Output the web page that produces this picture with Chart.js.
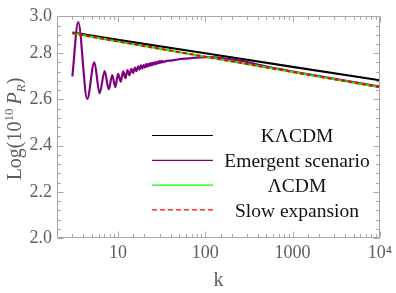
<!DOCTYPE html>
<html>
<head>
<meta charset="UTF-8">
<title>Log(10^10 P_R) vs k</title>
<script src="https://cdn.jsdelivr.net/npm/chart.js"></script>
<style>
  html, body { margin: 0; padding: 0; background: #fff; }
  #wrap { width: 396px; height: 293px; position: relative; }
</style>
</head>
<body>
<div id="wrap"><canvas id="c"></canvas></div>
<script>
// axis ranges and tick labels
const kMin = 2, kMax = 10000;
const yMin = 2.0, yMax = 2.962;
const yTickValues = [2.0, 2.2, 2.4, 2.6, 2.8, 3.0];
const xLabelValues = [10, 100, 1000, 10000];
const xLabelTexts = ['10', '100', '1000', '10\u2074'];

const seriesNames = ['K\u039BCDM', 'Emergent scenario', '\u039BCDM', 'Slow expansion'];

// straight curves (read at a few k)
const kLine = [3, 10, 100, 1000, 10000];
const kLcdm = [2.889, 2.858, 2.800, 2.741, 2.683];
const lcdm = [2.886, 2.851, 2.785, 2.719, 2.653];
const slowExp = [2.886, 2.851, 2.785, 2.719, 2.653];

// emergent scenario: extrema of the oscillation, then the smooth tail
const emK = [3.0, 3.5, 4.44, 5.35, 6.16, 7.03, 7.82, 8.59, 9.31,
  10.03, 10.75, 11.46, 12.16, 12.86, 13.55, 14.24, 14.92, 15.6, 16.28,
  16.95, 17.62, 18.29, 18.95, 19.61, 20.27, 20.93, 21.58, 22.23, 22.88,
  23.53, 24.17, 24.81, 25.45, 26.09, 26.72, 27.35, 27.98, 28.61, 29.24,
  29.87, 30.5, 31.13, 31.76, 32.4, 33.0,
  36, 42, 50, 65, 85, 107, 130, 165, 250, 500, 1000, 10000];
const emP = [2.700, 2.935, 2.602, 2.761, 2.627, 2.723, 2.644, 2.705, 2.653,
  2.711, 2.677, 2.721, 2.692, 2.727, 2.704, 2.732, 2.714, 2.738, 2.722,
  2.743, 2.729, 2.747, 2.733, 2.749, 2.738, 2.753, 2.741, 2.754, 2.745,
  2.757, 2.747, 2.758, 2.750, 2.761, 2.752, 2.762, 2.755, 2.764, 2.757,
  2.766, 2.759, 2.766, 2.760, 2.766, 2.762,
  2.767, 2.769, 2.774, 2.778, 2.782, 2.783, 2.782, 2.777, 2.768, 2.742, 2.721, 2.655];

const pts = (xs, ys) => xs.map((x, i) => ({ x: x, y: ys[i] }));

const SERIF = '"Liberation Serif", "DejaVu Serif", serif';
const GRAY = '#5e5e5e';

// frame with inward ticks on all four sides, legend, axis titles
const decorPlugin = {
  id: 'decor',
  afterDatasetsDraw(chart) {
    const { ctx, chartArea: a, scales: { x, y } } = chart;
    ctx.save();
    ctx.strokeStyle = '#a8a8a8';
    ctx.lineWidth = 1;
    ctx.beginPath();
    const L = Math.round(a.left) + 0.5, R = Math.round(a.right) - 0.5;
    const T = Math.round(a.top) + 0.5, B = Math.round(a.bottom) - 0.5;
    ctx.rect(L, T, R - L, B - T);
    x.ticks.forEach(t => {
      const px = Math.round(x.getPixelForValue(t.value)) + 0.5;
      const lg = Math.log10(t.value);
      const len = Math.abs(lg - Math.round(lg)) < 1e-9 ? 6 : 3.5;
      ctx.moveTo(px, B); ctx.lineTo(px, B - len);
      ctx.moveTo(px, T); ctx.lineTo(px, T + len);
    });
    for (let i = 0; ; i++) {
      const v = yMin + i * 0.04;
      if (v > yMax + 1e-9) break;
      const py = Math.round(y.getPixelForValue(v)) + 0.5;
      const len = i % 5 === 0 ? 6 : 3.5;
      ctx.moveTo(L, py); ctx.lineTo(L + len, py);
      ctx.moveTo(R, py); ctx.lineTo(R - len, py);
    }
    ctx.stroke();
    ctx.restore();
  },
  afterDraw(chart) {
    const { ctx, chartArea: a } = chart;
    ctx.save();
    // legend
    const lx0 = 152, lx1 = 213, tx = 297, ry0 = 135.5, gap = 24.8;
    chart.data.datasets.forEach((ds, i) => {
      const yy = ry0 + i * gap;
      ctx.strokeStyle = ds.borderColor;
      ctx.lineWidth = 1.2;
      ctx.setLineDash(ds.borderDash ? [5, 3] : []);
      ctx.beginPath();
      ctx.moveTo(lx0, yy); ctx.lineTo(lx1, yy);
      ctx.stroke();
      ctx.setLineDash([]);
      ctx.fillStyle = '#111';
      ctx.font = '19.5px ' + SERIF;
      ctx.textAlign = 'center';
      ctx.textBaseline = 'middle';
      ctx.fillText(ds.label, tx, yy + 1.5);
    });
    // x title
    ctx.fillStyle = GRAY;
    ctx.font = '20px ' + SERIF;
    ctx.textAlign = 'center';
    ctx.textBaseline = 'middle';
    ctx.fillText('k', (a.left + a.right) / 2, 281);
    // y title: Log(10^10 P_R)
    const parts = [
      { t: 'Log(10', f: '20px ' + SERIF, dy: 0 },
      { t: '10', f: '13px ' + SERIF, dy: -8 },
      { t: '\u2009', f: '20px ' + SERIF, dy: 0 },
      { t: 'P', f: 'italic 20px ' + SERIF, dy: 0 },
      { t: 'R', f: 'italic 13px ' + SERIF, dy: 4 },
      { t: ')', f: '20px ' + SERIF, dy: 0 }
    ];
    let total = 0;
    parts.forEach(p => { ctx.font = p.f; p.w = ctx.measureText(p.t).width; total += p.w; });
    ctx.translate(21, 129);
    ctx.rotate(-Math.PI / 2);
    ctx.textAlign = 'left';
    ctx.textBaseline = 'alphabetic';
    let cx = -total / 2;
    parts.forEach(p => {
      ctx.font = p.f;
      ctx.fillText(p.t, cx, p.dy);
      cx += p.w;
    });
    ctx.restore();
  }
};

new Chart(document.getElementById('c'), {
  type: 'line',
  data: {
    datasets: [
      { label: seriesNames[0], data: pts(kLine, kLcdm), borderColor: '#000000', borderWidth: 2.2, order: 4 },
      { label: seriesNames[1], data: pts(emK, emP), borderColor: '#800080', borderWidth: 2.2,
        cubicInterpolationMode: 'monotone', order: 3 },
      { label: seriesNames[2], data: pts(kLine, lcdm), borderColor: '#00ff00', borderWidth: 2, order: 2 },
      { label: seriesNames[3], data: pts(kLine, slowExp), borderColor: '#ff0000', borderWidth: 2,
        borderDash: [4, 3], order: 1 }
    ]
  },
  options: {
    responsive: true,
    maintainAspectRatio: false,
    animation: false,
    devicePixelRatio: 1,
    layout: { padding: { top: 11, right: 15, left: 0, bottom: 0 } },
    elements: { point: { radius: 0 }, line: { tension: 0, fill: false } },
    plugins: { legend: { display: false }, tooltip: { enabled: false } },
    scales: {
      x: {
        type: 'logarithmic',
        min: kMin, max: kMax,
        grid: { display: false, drawTicks: false },
        border: { display: false },
        afterFit: s => { s.height = 55; },
        ticks: {
          autoSkip: false, maxRotation: 0, padding: 4,
          color: GRAY, font: { family: SERIF, size: 18 },
          callback: v => {
            const i = xLabelValues.findIndex(t => Math.abs(t - v) < 1e-6 * t);
            return i >= 0 ? xLabelTexts[i] : '';
          }
        }
      },
      y: {
        type: 'linear',
        min: yMin, max: yMax,
        grid: { display: false, drawTicks: false },
        border: { display: false },
        afterFit: s => { s.width = 57; },
        afterBuildTicks: s => { s.ticks = yTickValues.map(v => ({ value: Math.min(v, yMax) })); },
        ticks: {
          padding: 5, color: GRAY, font: { family: SERIF, size: 18 },
          callback: (v, i) => yTickValues[i].toFixed(1)
        }
      }
    }
  },
  plugins: [decorPlugin]
});
</script>
</body>
</html>
